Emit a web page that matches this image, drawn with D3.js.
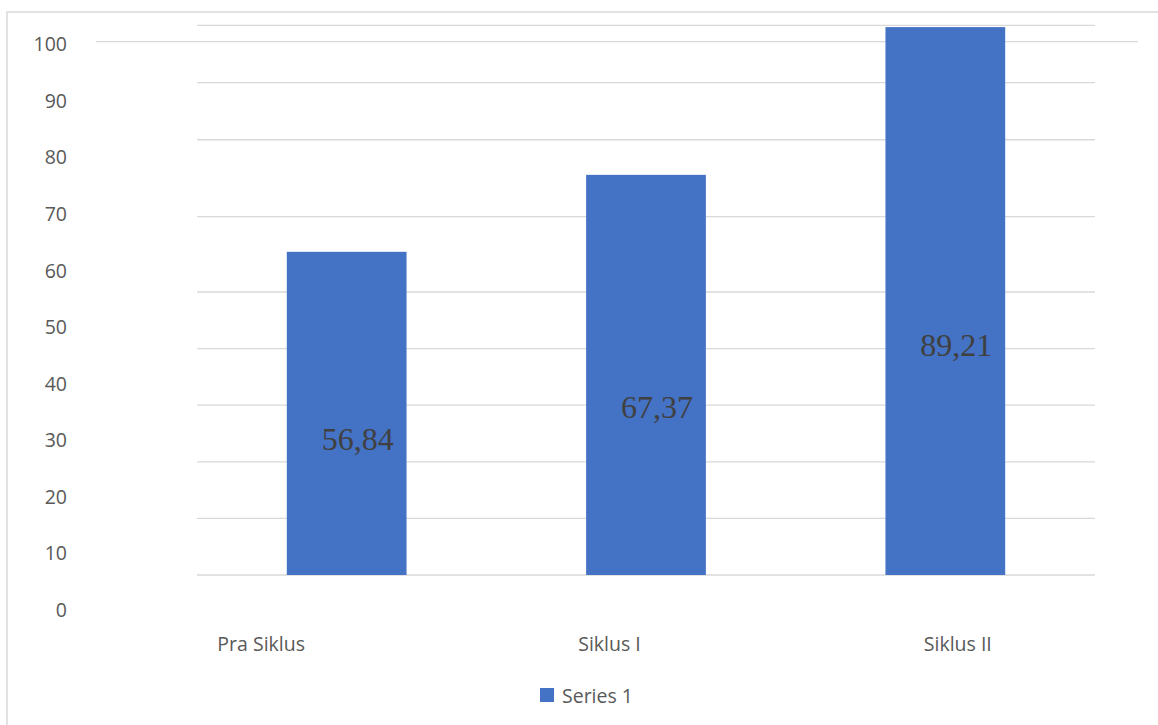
<!DOCTYPE html>
<html>
<head>
<meta charset="utf-8">
<script src="https://cdn.jsdelivr.net/npm/d3@7"></script>
<style>
  body { margin: 0; background: #fff; }
  svg { display: block; }
</style>
</head>
<body>
<svg></svg>
<script>
const width = 1158;
const height = 725;

// data
const categories = ["Pra Siklus", "Siklus I", "Siklus II"];
const barValues = [57.1, 70.7, 96.8];
const dataLabels = ["56,84", "67,37", "89,21"];
const axisTicks = [0, 10, 20, 30, 40, 50, 60, 70, 80, 90, 100];
const gridValues = [0, 10, 20, 30, 40, 50, 63.3, 76.9, 87, 97.1];
const seriesName = "Series 1";

const barColor = "#4472C4";
const gridColor = "#d9d9d9";
const textColor = "#595959";

const svg = d3.select("svg")
  .attr("width", width)
  .attr("height", height);

// chart border (runs off the right and bottom edge)
svg.append("rect")
  .attr("x", 7).attr("y", 12)
  .attr("width", width + 20).attr("height", height + 20)
  .attr("fill", "none")
  .attr("stroke", gridColor)
  .attr("stroke-width", 1.5);

// inner plot: bars + gridlines
const xBar = d3.scaleBand()
  .domain(categories)
  .range([197, 1095])
  .paddingInner(0.6)
  .paddingOuter(0.3);

const yBar = d3.scaleLinear().domain([0, 100]).range([575, 9]);

svg.append("g")
  .attr("class", "grid")
  .selectAll("line")
  .data(gridValues)
  .enter()
  .append("line")
  .attr("x1", xBar.range()[0])
  .attr("x2", xBar.range()[1])
  .attr("y1", d => yBar(d))
  .attr("y2", d => yBar(d))
  .attr("stroke", gridColor)
  .attr("stroke-width", 1.3);

// outer axis: tick labels and category labels
const yAxis = d3.scaleLinear().domain([0, 100]).range([607.5, 41.7]);
const xOuter = d3.scaleBand().domain(categories).range([87, 1132]);

svg.append("line")
  .attr("x1", 96).attr("x2", 1138)
  .attr("y1", yAxis(100)).attr("y2", yAxis(100))
  .attr("stroke", gridColor)
  .attr("stroke-width", 1.3);

svg.append("g")
  .selectAll("rect")
  .data(barValues)
  .enter()
  .append("rect")
  .attr("x", (d, i) => xBar(categories[i]))
  .attr("y", d => yBar(d))
  .attr("width", xBar.bandwidth())
  .attr("height", d => yBar(0) - yBar(d))
  .attr("fill", barColor);

svg.append("g")
  .selectAll("text")
  .data(barValues)
  .enter()
  .append("text")
  .attr("x", (d, i) => xBar(categories[i]) + xBar.bandwidth() / 2 + 11)
  .attr("y", d => yBar(d * 0.42))
  .attr("dominant-baseline", "central")
  .attr("text-anchor", "middle")
  .attr("font-family", "'Liberation Serif', serif")
  .attr("font-size", 32)
  .attr("fill", "#404040")
  .text((d, i) => dataLabels[i]);

svg.append("g")
  .selectAll("text")
  .data(axisTicks)
  .enter()
  .append("text")
  .attr("x", 67)
  .attr("y", d => yAxis(d) + 2)
  .attr("dominant-baseline", "central")
  .attr("text-anchor", "end")
  .attr("font-family", "'Open Sans', sans-serif")
  .attr("font-size", 19.5)
  .attr("fill", textColor)
  .text(d => d);

svg.append("g")
  .selectAll("text")
  .data(categories)
  .enter()
  .append("text")
  .attr("x", d => xOuter(d) + xOuter.bandwidth() / 2)
  .attr("y", 643)
  .attr("dominant-baseline", "central")
  .attr("text-anchor", "middle")
  .attr("font-family", "'Open Sans', sans-serif")
  .attr("font-size", 19.5)
  .attr("fill", textColor)
  .text(d => d);

// legend
const legend = svg.append("g").attr("transform", "translate(540,695)");
legend.append("rect")
  .attr("x", 0).attr("y", -7)
  .attr("width", 14).attr("height", 14)
  .attr("fill", barColor);
legend.append("text")
  .attr("x", 22).attr("y", 0)
  .attr("dominant-baseline", "central")
  .attr("font-family", "'Open Sans', sans-serif")
  .attr("font-size", 19.5)
  .attr("fill", textColor)
  .text(seriesName);
</script>
</body>
</html>
